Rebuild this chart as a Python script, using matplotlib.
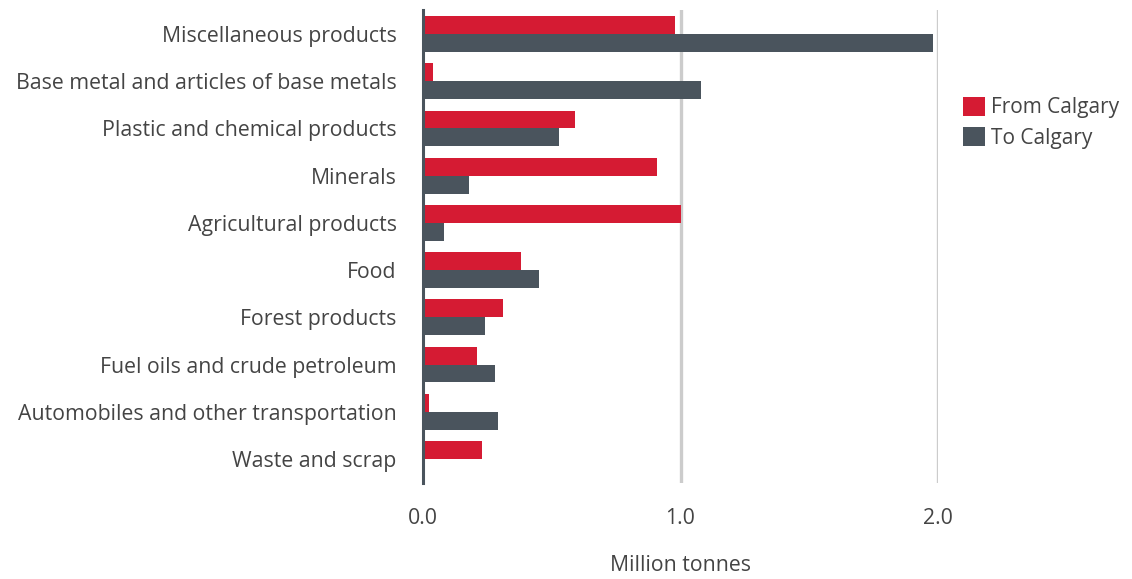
import matplotlib
matplotlib.use("Agg")
import matplotlib.pyplot as plt
import numpy as np
from matplotlib.patches import Patch

categories = ["Miscellaneous products", "Base metal and articles of base metals",
              "Plastic and chemical products", "Minerals", "Agricultural products",
              "Food", "Forest products", "Fuel oils and crude petroleum",
              "Automobiles and other transportation", "Waste and scrap"]
from_calgary = [0.98, 0.04, 0.59, 0.91, 1.00, 0.38, 0.31, 0.21, 0.025, 0.23]
to_calgary = [1.98, 1.08, 0.53, 0.18, 0.08, 0.45, 0.24, 0.28, 0.29, 0.0]
xticks = [0.0, 1.0, 2.0]
xtick_labels = ["0.0", "1.0", "2.0"]

RED = "#d51b33"
GRAY = "#4a545d"
TXT = "#444444"

plt.rcParams['font.family'] = ['Open Sans', 'DejaVu Sans']
FS = 15.3

fig = plt.figure(figsize=(11.32, 5.79), dpi=100)
W, H = 1132, 579
left, right, top, bottom = 423, 938, 10.4, 482.6
ax = fig.add_axes([left / W, 1 - bottom / H, (right - left) / W, (bottom - top) / H])

y = np.arange(len(categories))
h = 0.38
ax.barh(y - h / 2, from_calgary, height=h, color=RED, zorder=3, label="From Calgary")
ax.barh(y + h / 2, to_calgary, height=h, color=GRAY, zorder=3, label="To Calgary")

ax.set_ylim(len(categories) - 0.5, -0.5)
ax.set_xlim(0, 2.0)
ax.set_yticks(y)
ax.set_yticklabels(categories, fontsize=FS, color=TXT)
ax.set_xticks(xticks)
ax.set_xticklabels(xtick_labels, fontsize=FS, color=TXT)
ax.tick_params(axis='y', length=0, pad=19)
ax.tick_params(axis='x', length=0, pad=18)

for s in ["top", "right", "bottom"]:
    ax.spines[s].set_visible(False)
ax.spines["left"].set_color(GRAY)
ax.spines["left"].set_linewidth(2.2)
ax.spines["left"].set_zorder(4)

for xv in [1.0, 2.0]:
    ax.axvline(xv, color="#cccccc", linewidth=2.4, zorder=1)

ax.set_xlabel("Million tonnes", fontsize=FS, color=TXT, labelpad=19)

handles = [Patch(facecolor=RED, label="From Calgary"), Patch(facecolor=GRAY, label="To Calgary")]
fig.legend(handles=handles, loc="upper left", bbox_to_anchor=(963 / W, 1 - 97 / H),
           frameon=False, fontsize=15, labelcolor=TXT, handlelength=1.05, handleheight=1.0,
           handletextpad=0.3, labelspacing=0.42, borderaxespad=0, borderpad=0)

fig.savefig("out.png", dpi=100)
